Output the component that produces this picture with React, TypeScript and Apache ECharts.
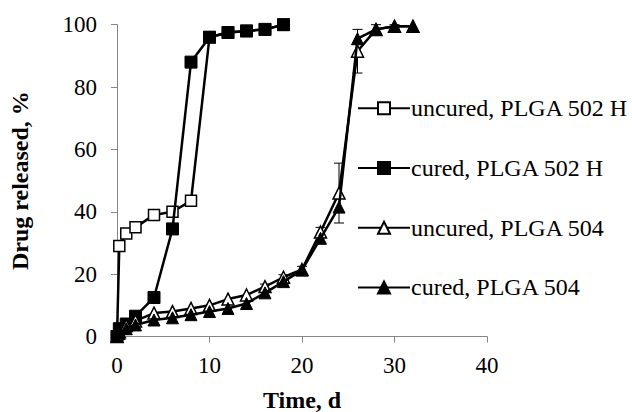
import React, { useEffect, useRef } from "react";
import * as echarts from "echarts";

const FONT = "Times New Roman, Liberation Serif, DejaVu Serif, serif";

const seriesNames = [
  "uncured, PLGA 502 H",
  "cured, PLGA 502 H",
  "uncured, PLGA 504",
  "cured, PLGA 504",
];

const time502 = [0, 0.25, 1, 2, 4, 6, 8, 10, 12, 14, 16, 18];
const uncured502H = [0, 29, 33, 35, 39, 40, 43.5, 96, 97.5, 98, 98.5, 100];
const cured502H = [0, 2.5, 4, 6.5, 12.5, 34.5, 88, 96, 97.5, 98, 98.5, 100];

const time504 = [0, 0.25, 1, 2, 4, 6, 8, 10, 12, 14, 16, 18, 20, 22, 24, 26, 28, 30, 32];
const uncured504 = [0, 1.5, 3.5, 5, 7.5, 8, 9, 10, 12, 13.3, 16, 19, 21.5, 33.5, 46, 91.5, 98.5, 99.5, 99.5];
const cured504 = [0, 1, 2.5, 3.7, 5.3, 6, 7, 8, 9, 10.6, 14, 17.6, 21.3, 31.5, 41.5, 95.5, 98.5, 99.5, 99.5];
const uncured504Err = [0, 0, 0, 0, 0, 0, 0, 0, 0, 0, 0.8, 0.8, 1, 1.5, 9.6, 7, 1.5, 0.5, 0];

const xTicks = { min: 0, max: 40, interval: 10 };
const yTicks = { min: 0, max: 100, interval: 20 };

function pairs(t: number[], v: number[]) {
  return t.map((x, i) => [x, v[i]]);
}

export default function App() {
  const ref = useRef<HTMLDivElement>(null);
  useEffect(() => {
    if (!ref.current) return;
    const chart = echarts.init(ref.current, undefined, { renderer: "svg" });
    const lineStyle = { color: "#000", width: 2.5 };
    const openItem = { color: "#fff", borderColor: "#000", borderWidth: 1.5 };
    const filledItem = { color: "#000", borderColor: "#000", borderWidth: 1 };
    const errData = time504
      .map((t, i) => [t, uncured504[i], uncured504Err[i]])
      .filter((d) => d[2] > 0);
    chart.setOption({
      animation: false,
      backgroundColor: "#fff",
      textStyle: { fontFamily: FONT },
      grid: { left: 117, right: 145, top: 24.7, bottom: 75.5, containLabel: false, outerBoundsMode: "none" },
      legend: {
        data: seriesNames,
        orient: "vertical",
        left: 357,
        top: 96.3,
        padding: 0,
        itemWidth: 52,
        itemHeight: 15,
        itemGap: 35.7,
        selectedMode: false,
        textStyle: { fontFamily: FONT, fontSize: 24, color: "#000", lineHeight: 24, padding: [0, 0, 0, -4] },
      },
      xAxis: {
        type: "value",
        ...xTicks,
        name: "Time, d",
        nameLocation: "middle",
        nameGap: 51,
        nameTextStyle: { fontFamily: FONT, fontSize: 24, fontWeight: "bold", color: "#000", lineHeight: 24 },
        axisLine: { show: true, lineStyle: { color: "#868686", width: 1 } },
        axisTick: { show: true, length: 6, lineStyle: { color: "#868686" } },
        axisLabel: { fontFamily: FONT, fontSize: 23, color: "#000", margin: 17 },
        splitLine: { show: false },
      },
      yAxis: {
        type: "value",
        ...yTicks,
        name: "Drug released, %",
        nameLocation: "middle",
        nameGap: 85,
        nameTextStyle: { fontFamily: FONT, fontSize: 24, fontWeight: "bold", color: "#000" },
        axisLine: { show: true, lineStyle: { color: "#868686", width: 1 } },
        axisTick: { show: true, length: 6, lineStyle: { color: "#868686" } },
        axisLabel: { fontFamily: FONT, fontSize: 23, color: "#000", margin: 20 },
        splitLine: { show: false },
      },
      series: [
        {
          type: "custom",
          name: "errors",
          z: 1,
          data: errData,
          renderItem: (params: any, api: any) => {
            const x = api.value(0);
            const y = api.value(1);
            const e = api.value(2);
            const hi = api.coord([x, y + e]);
            const lo = api.coord([x, y - e]);
            const w = 5;
            const st = { stroke: "#000", lineWidth: 1 };
            return {
              type: "group",
              children: [
                { type: "line", shape: { x1: hi[0], y1: hi[1], x2: lo[0], y2: lo[1] }, style: st },
                { type: "line", shape: { x1: hi[0] - w, y1: hi[1], x2: hi[0] + w, y2: hi[1] }, style: st },
                { type: "line", shape: { x1: lo[0] - w, y1: lo[1], x2: lo[0] + w, y2: lo[1] }, style: st },
              ],
            };
          },
        },
        {
          type: "line",
          name: seriesNames[0],
          data: pairs(time502, uncured502H),
          symbol: "rect",
          symbolSize: 11,
          lineStyle,
          itemStyle: openItem,
          z: 2,
        },
        {
          type: "line",
          name: seriesNames[1],
          data: pairs(time502, cured502H),
          symbol: "rect",
          symbolSize: 12,
          lineStyle,
          itemStyle: filledItem,
          z: 3,
        },
        {
          type: "line",
          name: seriesNames[2],
          data: pairs(time504, uncured504),
          symbol: "triangle",
          symbolSize: 12,
          lineStyle,
          itemStyle: openItem,
          z: 4,
        },
        {
          type: "line",
          name: seriesNames[3],
          data: pairs(time504, cured504),
          symbol: "triangle",
          symbolSize: 12,
          lineStyle,
          itemStyle: filledItem,
          z: 5,
        },
      ],
    });
    return () => chart.dispose();
  }, []);
  return <div ref={ref} style={{ width: 632, height: 412, position: "absolute", left: 0, top: 0 }} />;
}
